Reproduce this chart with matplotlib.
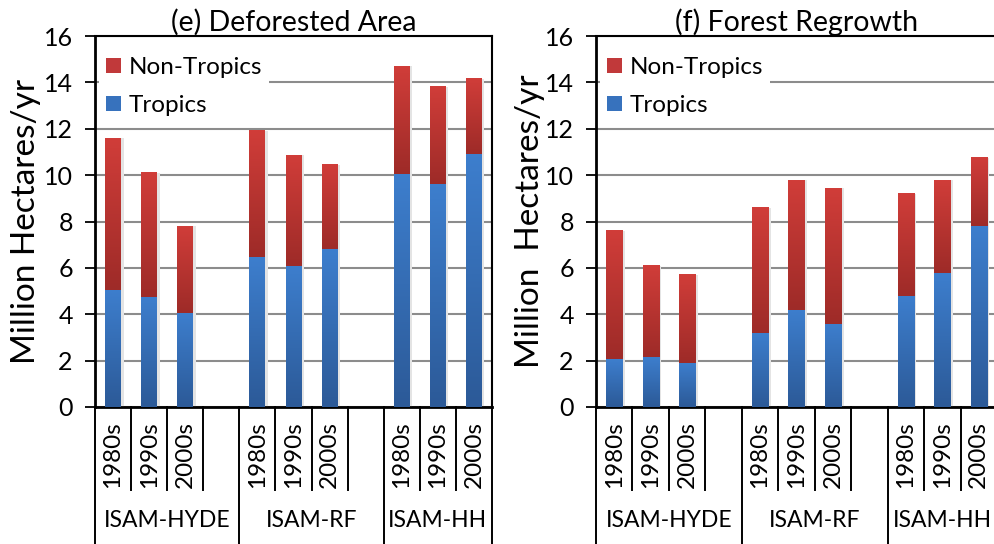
#!/usr/bin/env python3
"""Deforested area and forest regrowth, tropics vs non-tropics, per model and decade."""
import matplotlib
matplotlib.use("Agg")
import matplotlib.pyplot as plt
import numpy as np
from matplotlib.colors import LinearSegmentedColormap
from matplotlib.patches import Patch, Rectangle

plt.rcParams["font.family"] = ["Lato", "DejaVu Sans"]

decades = ["1980s", "1990s", "2000s"]
models = ["ISAM-HYDE", "ISAM-RF", "ISAM-HH"]

# (e) deforested area, million ha/yr
deforest_tropics = [5.05, 4.75, 4.05, 6.45, 6.1, 6.8, 10.05, 9.6, 10.9]
deforest_nontropics = [6.55, 5.35, 3.75, 5.45, 4.75, 3.65, 4.65, 4.2, 3.25]

# (f) forest regrowth, million ha/yr
regrowth_tropics = [2.05, 2.15, 1.9, 3.2, 4.2, 3.6, 4.8, 5.8, 7.8]
regrowth_nontropics = [5.55, 3.95, 3.8, 5.4, 5.6, 5.85, 4.4, 4.0, 2.95]

RED = LinearSegmentedColormap.from_list("red", ["#9e2b28", "#d03d39"])
BLUE = LinearSegmentedColormap.from_list("blue", ["#2c5a98", "#3d7ecd"])
GRAD = np.linspace(0, 1, 64).reshape(-1, 1)

BAR_W = 0.44
N_SLOTS = 11  # 3 groups of 3 decades with a blank slot between groups


def slot_positions():
    xs = []
    for g in range(len(models)):
        for d in range(len(decades)):
            xs.append(g * 4 + d + 0.5)
    return xs


def gradient_bar(ax, x, y0, h, cmap):
    ax.imshow(GRAD, origin="lower", cmap=cmap, aspect="auto",
              extent=[x - BAR_W / 2, x + BAR_W / 2, y0, y0 + h],
              interpolation="bilinear", zorder=3)


def draw_panel(ax, title, ylabel, label_x, tropics, nontropics):
    xs = slot_positions()
    for x, t, n in zip(xs, tropics, nontropics):
        # faint shadow on the right side of the stack
        ax.add_patch(Rectangle((x + BAR_W / 2, 0), 0.07, t + n,
                               color="#e4e4e4", lw=0, zorder=2))
        gradient_bar(ax, x, 0, t, BLUE)
        gradient_bar(ax, x, t, n, RED)

    ax.set_xlim(0, N_SLOTS)
    ax.set_ylim(0, 16)
    ax.set_yticks(range(0, 17, 2))
    ax.tick_params(axis="y", direction="out", length=7, width=1.3,
                   color="black", labelsize=18, pad=9)
    ax.tick_params(axis="x", bottom=False, labelbottom=False)
    ax.yaxis.grid(True, color="#8c8c8c", lw=1.5)
    ax.set_axisbelow(True)
    for s in ax.spines.values():
        s.set_linewidth(1.5)
        s.set_color("black")
    ax.spines["left"].set_linewidth(2)
    ax.spines["bottom"].set_linewidth(2)

    ax.set_title(title, fontsize=20.5, pad=2)
    ax.set_ylabel(ylabel, fontsize=24)
    ax.yaxis.set_label_coords(label_x, 0.5)

    # multi-level category axis drawn by hand
    tr = ax.get_xaxis_transform()
    for k in range(N_SLOTS + 1):
        y_end = -0.37 if k % 4 == 0 or k == N_SLOTS else -0.224
        ax.plot([k, k], [0, y_end], color="black", lw=1.4,
                transform=tr, clip_on=False)
    for x, lab in zip(xs, decades * len(models)):
        ax.text(x, -0.128, lab, transform=tr, rotation=90,
                ha="center", va="center", fontsize=17.5)
    for g, m in enumerate(models):
        left = g * 4
        right = min(left + 4, N_SLOTS)
        ax.text((left + right) / 2, -0.305, m, transform=tr,
                ha="center", va="center", fontsize=16.5)

    handles = [Patch(facecolor="#c1393a", edgecolor="none"),
               Patch(facecolor="#3772bd", edgecolor="none")]
    leg = ax.legend(handles, ["Non-Tropics", "Tropics"], loc="upper left",
                    bbox_to_anchor=(0.0, 0.973), fontsize=17.5,
                    handlelength=0.62, handleheight=0.62, handletextpad=0.3,
                    labelspacing=0.7, borderaxespad=0.15, borderpad=0.3,
                    frameon=True, fancybox=False, framealpha=1.0)
    leg.get_frame().set_edgecolor("none")
    leg.get_frame().set_facecolor("white")
    leg.set_zorder(5)


fig = plt.figure(figsize=(9.94, 5.44), dpi=100)
ax_e = fig.add_axes([95 / 994, 137 / 544, 397 / 994, 371 / 544])
ax_f = fig.add_axes([596 / 994, 137 / 544, 401 / 994, 371 / 544])

draw_panel(ax_e, "(e) Deforested Area", "Million Hectares/yr", -0.135,
           deforest_tropics, deforest_nontropics)
draw_panel(ax_f, "(f) Forest Regrowth", "Million  Hectares/yr", -0.127,
           regrowth_tropics, regrowth_nontropics)

fig.savefig("out.png", dpi=100)
